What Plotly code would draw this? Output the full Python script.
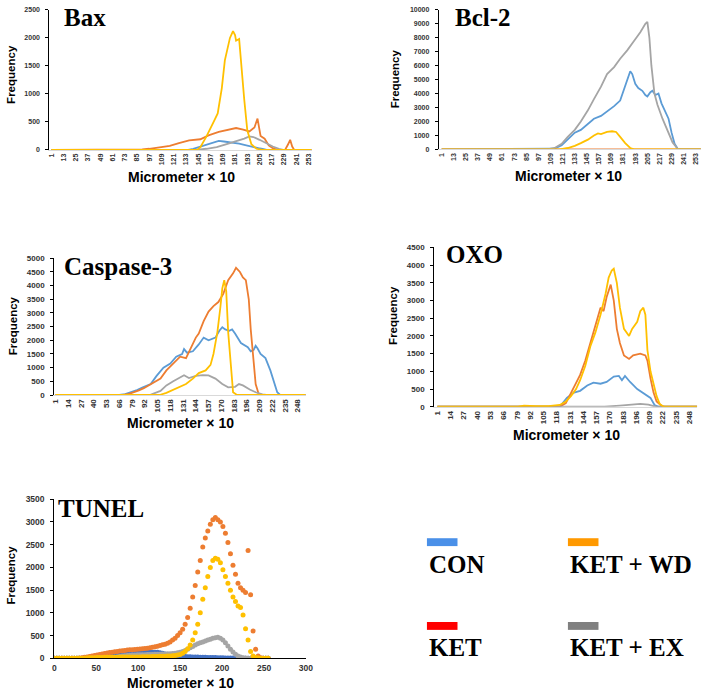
import plotly.graph_objects as go

W, H = 709, 695

# ---------------- DATA ----------------
# colors per group
C_CON, C_KET, C_WD, C_EX = "#5B9BD5", "#ED7D31", "#FFC000", "#A5A5A5"

# Bax (category index 1..256)
bax_con_x = [1, 135, 140, 147, 155, 160, 165, 170, 175, 179, 185, 192, 198, 204, 208, 212, 256]
bax_con_y = [0, 0, 20, 60, 110, 140, 160, 150, 140, 130, 110, 80, 50, 30, 20, 0, 0]
bax_ket_x = [1, 85, 90, 97, 107, 117, 126, 136, 147, 155, 165, 176, 182, 189, 195, 200, 203, 206, 210, 214, 218, 222, 230, 233, 235, 237, 239, 256]
bax_ket_y = [0, 0, 10, 20, 40, 70, 120, 170, 190, 260, 320, 370, 390, 360, 330, 400, 560, 250, 200, 80, 30, 5, 0, 100, 180, 60, 0, 0]
bax_wd_x = [1, 144, 147, 153, 160, 164, 168, 171, 176, 179, 181, 182, 185, 187, 190, 193, 197, 202, 208, 256]
bax_wd_y = [0, 0, 50, 240, 500, 650, 1100, 1600, 2000, 2120, 2050, 1950, 1980, 1500, 900, 350, 100, 20, 0, 0]
bax_ex_x = [1, 143, 153, 163, 172, 182, 190, 195, 199, 205, 211, 218, 224, 228, 256]
bax_ex_y = [0, 0, 20, 50, 100, 150, 200, 240, 230, 180, 120, 60, 20, 0, 0]

# Bcl-2
bcl_con_x = [1, 105, 113, 120, 126, 133, 139, 146, 152, 159, 165, 172, 178, 182, 185, 188, 190, 193, 196, 200, 203, 205, 208, 210, 213, 216, 219, 222, 226, 229, 232, 235, 238, 258]
bcl_con_y = [0, 0, 50, 300, 700, 1200, 1400, 1800, 2200, 2400, 2700, 3100, 3500, 4300, 5000, 5600, 5400, 4700, 4400, 4200, 3900, 3800, 4100, 4200, 3900, 4000, 3300, 2800, 2200, 1200, 400, 50, 0, 0]
bcl_ket_x = [1, 110, 120, 190, 200, 258]
bcl_ket_y = [0, 0, 30, 30, 0, 0]
bcl_wd_x = [1, 118, 126, 133, 139, 146, 152, 156, 159, 162, 165, 170, 174, 178, 183, 188, 192, 258]
bcl_wd_y = [0, 0, 100, 250, 450, 700, 1000, 1150, 1100, 1200, 1250, 1300, 1250, 900, 450, 100, 0, 0]
bcl_ex_x = [1, 100, 108, 113, 120, 126, 133, 139, 146, 152, 159, 165, 172, 178, 185, 191, 198, 203, 205, 207, 209, 212, 215, 220, 225, 230, 235, 237, 258]
bcl_ex_y = [0, 0, 30, 100, 400, 900, 1400, 2000, 2800, 3600, 4500, 5400, 5900, 6500, 7100, 7700, 8400, 9000, 9150, 8000, 6000, 4000, 3200, 2200, 1300, 500, 50, 0, 0]

# Caspase-3
cas_con_x = [1, 66, 72, 78, 84, 90, 98, 104, 111, 118, 124, 130, 132, 135, 141, 147, 152, 157, 164, 168, 171, 174, 178, 181, 184, 190, 197, 200, 203, 205, 207, 210, 215, 220, 224, 227, 230, 256]
cas_con_y = [0, 0, 30, 100, 180, 280, 400, 700, 1000, 1150, 1400, 1500, 1680, 1550, 1600, 1850, 2100, 2000, 2100, 2350, 2480, 2400, 2350, 2400, 2250, 1900, 1750, 1600, 1650, 1800, 1700, 1500, 1350, 900, 400, 100, 0, 0]
cas_ket_x = [1, 70, 76, 81, 86, 91, 96, 101, 108, 114, 121, 128, 134, 139, 144, 147, 152, 157, 162, 167, 172, 177, 182, 185, 189, 192, 195, 198, 200, 203, 205, 208, 211, 256]
cas_ket_y = [0, 0, 40, 100, 170, 250, 350, 450, 600, 900, 1150, 1400, 1350, 1700, 2100, 2250, 2700, 3050, 3250, 3400, 3700, 4200, 4450, 4650, 4500, 4300, 4200, 3500, 2400, 1200, 400, 50, 0, 0]
cas_wd_x = [1, 107, 114, 121, 128, 134, 141, 147, 154, 159, 162, 166, 169, 171, 173, 175, 177, 180, 182, 186, 256]
cas_wd_y = [0, 0, 80, 200, 300, 400, 600, 800, 900, 1100, 1500, 2300, 3200, 3900, 4200, 3800, 2300, 800, 100, 0, 0]
cas_ex_x = [1, 97, 108, 114, 121, 128, 132, 137, 144, 151, 157, 164, 171, 177, 184, 188, 192, 199, 205, 212, 216, 256]
cas_ex_y = [0, 0, 150, 350, 500, 650, 720, 620, 700, 730, 720, 600, 400, 280, 300, 400, 350, 200, 100, 20, 0, 0]

# OXO
oxo_con_x = [1, 121, 128, 135, 141, 148, 154, 161, 167, 174, 179, 182, 185, 190, 197, 203, 210, 214, 218, 256]
oxo_con_y = [0, 0, 250, 400, 450, 600, 680, 650, 700, 850, 870, 750, 870, 700, 500, 380, 250, 50, 0, 0]
oxo_ket_x = [1, 121, 127, 132, 137, 141, 146, 151, 156, 161, 164, 167, 171, 174, 177, 180, 184, 189, 193, 200, 205, 207, 210, 213, 216, 221, 224, 256]
oxo_ket_y = [0, 0, 100, 400, 700, 900, 1300, 1800, 2300, 2800, 2700, 3100, 3450, 3000, 2200, 1800, 1450, 1350, 1450, 1500, 1450, 1300, 800, 400, 150, 20, 0, 0]
oxo_wd_x = [1, 80, 86, 92, 98, 110, 121, 127, 132, 137, 141, 146, 151, 156, 161, 166, 169, 172, 174, 177, 180, 184, 189, 192, 197, 200, 203, 205, 207, 210, 213, 216, 219, 223, 256]
oxo_wd_y = [0, 0, 30, 20, 15, 20, 50, 150, 300, 500, 750, 1150, 1700, 2100, 2600, 3200, 3650, 3850, 3900, 3500, 2800, 2200, 2000, 2200, 2400, 2700, 2800, 2600, 1600, 1000, 600, 300, 80, 0, 0]
oxo_ex_x = [1, 165, 180, 190, 200, 208, 215, 256]
oxo_ex_y = [0, 0, 30, 60, 80, 60, 0, 0]

# TUNEL (micrometer x 10, sampled every 3)
tun_x = list(range(0, 256, 3))
tun_con_y = [0]*18 + [5, 10, 20, 30, 40, 50, 60, 70, 80, 90, 100, 105, 110, 115, 120, 122, 125, 128, 130, 132, 135, 135, 135, 130, 120, 110, 95, 85, 75, 65, 55, 50, 45, 40, 38, 35, 32, 30, 28, 26, 24, 22, 20, 18, 16, 15, 14, 12, 10, 9, 8, 7, 6, 5, 4, 3, 2, 1] + [0]*10
tun_ket_y = [0]*10 + [5, 10, 20, 30, 40, 50, 60, 70, 85, 95, 105, 115, 125, 135, 145, 150, 160, 165, 170, 180, 185, 190, 195, 200, 205, 210, 215, 220, 230, 240, 255, 265, 280, 295, 310, 330, 360, 400, 440, 500, 560, 640, 750, 900, 1100, 1350, 1600, 1900, 2150, 2450, 2650, 2800, 2950, 3050, 3100, 3050, 3000, 2900, 2750, 2550, 2300, 2050, 1850, 1650, 1550, 1500, 1450, 2370, 1400, 600, 200, 50, 10, 0, 0, 0]
tun_wd_y = [0]*13 + [5, 10, 10, 12, 15, 15, 18, 20, 20, 20, 22, 22, 24, 25, 25, 25, 27, 28, 28, 30, 30, 30, 32, 32, 34, 35, 36, 38, 40, 42, 44, 46, 48, 52, 56, 62, 70, 85, 110, 150, 210, 290, 400, 560, 750, 1000, 1300, 1550, 1800, 2000, 2150, 2200, 2180, 2100, 1950, 1800, 1650, 1500, 1350, 1250, 1150, 1120, 950, 650, 400, 150, 50, 15, 5, 0, 0, 0, 0]
tun_ex_y = [0]*24 + [20, 30, 40, 50, 55, 60, 65, 70, 72, 75, 78, 80, 80, 82, 85, 85, 88, 90, 90, 92, 95, 98, 100, 105, 110, 120, 130, 150, 170, 200, 230, 260, 290, 320, 340, 360, 380, 400, 420, 440, 450, 460, 440, 400, 340, 270, 200, 140, 90, 50, 25, 10, 5] + [0]*9

# tick labels
cat_ticks_12 = list(range(1, 254, 12))
cat_ticks_13 = list(range(1, 249, 13))
tun_ticks = [0, 50, 100, 150, 200, 250, 300]

legend_items = [("CON", "#4A90E8", 430, 545, 568), ("KET + WD", "#FF9900", 573, 545, 568),
                ("KET", "#FF0000", 430, 630, 652), ("KET + EX", "#808080", 573, 630, 652)]

# ---------------- FIGURE ----------------
fig = go.Figure()

def px_dom_x(a, b):
    return [a / W, b / W]

def px_dom_y(top, bottom):
    return [1 - bottom / H, 1 - top / H]

panels = [
    ("Bax", 1, [(bax_con_x, bax_con_y, C_CON), (bax_ket_x, bax_ket_y, C_KET), (bax_ex_x, bax_ex_y, C_EX), (bax_wd_x, bax_wd_y, C_WD)],
     (47, 313), (5, 147), [-1, 256], 2500, 500, cat_ticks_12, 7),
    ("Bcl-2", 2, [(bcl_con_x, bcl_con_y, C_CON), (bcl_ket_x, bcl_ket_y, C_KET), (bcl_ex_x, bcl_ex_y, C_EX), (bcl_wd_x, bcl_wd_y, C_WD)],
     (442, 708), (5, 146.5), [-1.9, 258.2], 10000, 1000, cat_ticks_12, 7),
    ("Caspase-3", 3, [(cas_con_x, cas_con_y, C_CON), (cas_ket_x, cas_ket_y, C_KET), (cas_ex_x, cas_ex_y, C_EX), (cas_wd_x, cas_wd_y, C_WD)],
     (52, 307), (257, 395.7), [-0.3, 256], 5000, 500, cat_ticks_13, 8),
    ("OXO", 4, [(oxo_con_x, oxo_con_y, C_CON), (oxo_ket_x, oxo_ket_y, C_KET), (oxo_ex_x, oxo_ex_y, C_EX), (oxo_wd_x, oxo_wd_y, C_WD)],
     (437.4, 704), (246, 407.6), [-2.1, 255.7], 4500, 500, cat_ticks_13, 8),
]

layout_axes = {}
for name, i, series, xd, yd, xr, ymax, dt, cticks, fs in panels:
    xa = "x" if i == 1 else f"x{i}"
    ya = "y" if i == 1 else f"y{i}"
    for xs, ys, col in series:
        fig.add_trace(go.Scatter(x=xs, y=ys, mode="lines", line=dict(color=col, width=1.8),
                                 xaxis=xa, yaxis=ya, hoverinfo="skip"))
    kx = "xaxis" if i == 1 else f"xaxis{i}"
    ky = "yaxis" if i == 1 else f"yaxis{i}"
    layout_axes[kx] = dict(domain=px_dom_x(*xd), anchor=ya, range=xr, showgrid=False, zeroline=False,
                           showline=True, linecolor="#D9D9D9", linewidth=1,
                           tickmode="array", tickvals=cticks, ticktext=[str(t) for t in cticks],
                           tickangle=-90, ticks="", tickfont=dict(family="Liberation Sans", size=fs, color="#333333", weight="bold"))
    layout_axes[ky] = dict(domain=px_dom_y(*yd), anchor=xa, range=[0, ymax], dtick=dt, tickformat="d", showgrid=False,
                           zeroline=False, showline=True, linecolor="#000000", linewidth=1,
                           ticks="outside", ticklen=3, tickcolor="#000000", ticklabelstandoff=4,
                           tickfont=dict(family="Liberation Sans", size=fs, color="#333333", weight="bold"))

# TUNEL scatter
for ys, col in [(tun_con_y, "#4472C4"), (tun_ket_y, C_KET), (tun_ex_y, C_EX), (tun_wd_y, C_WD)]:
    fig.add_trace(go.Scatter(x=tun_x, y=ys, mode="markers", marker=dict(color=col, size=5),
                             xaxis="x5", yaxis="y5", hoverinfo="skip"))
layout_axes["xaxis5"] = dict(domain=px_dom_x(52, 307.3), anchor="y5", range=[0, 300], showgrid=False, zeroline=False,
                             showline=True, linecolor="#000000", linewidth=1, tickmode="array", tickvals=tun_ticks,
                             ticks="", ticklabelstandoff=2,
                             tickfont=dict(family="Liberation Sans", size=8.5, color="#333333", weight="bold"))
layout_axes["yaxis5"] = dict(domain=px_dom_y(501.5, 662.8), anchor="x5", range=[0, 3500], dtick=500, tickformat="d", showgrid=False,
                             zeroline=False, showline=True, linecolor="#000000", linewidth=1,
                             ticks="outside", ticklen=3, tickcolor="#000000", ticklabelstandoff=4,
                             tickfont=dict(family="Liberation Sans", size=8.5, color="#333333", weight="bold"))

ann = []
def A(text, px, py, size, family, xanchor="center", angle=0, weight="bold"):
    ann.append(dict(text=text, x=px / W, y=1 - py / H, xref="paper", yref="paper", xanchor=xanchor,
                    yanchor="middle", showarrow=False, textangle=angle,
                    font=dict(family=family, size=size, color="#000000", weight=weight)))

# panel titles
for t, px, py in [("Bax", 60, 13), ("Bcl-2", 456, 13), ("Caspase-3", 60, 265), ("OXO", 447, 253), ("TUNEL", 54, 511)]:
    A(t, px, py, 25, "Liberation Serif", xanchor="left")
# axis titles
for px, py in [(181, 175), (574, 174), (180, 424), (572, 436), (180, 688)]:
    A("Micrometer × 10", px, py, 14, "Liberation Sans")
for px, py in [(8, 70), (398, 75), (10, 325), (396, 315), (8, 578)]:
    A("Frequency", px, py, 11.5, "Liberation Sans", angle=-90)

shapes = []
for label, col, lx, ry, ty in legend_items:
    shapes.append(dict(type="rect", xref="paper", yref="paper", x0=lx / W, x1=(lx + 31) / W,
                       y0=1 - (ry + 4) / H, y1=1 - (ry - 4) / H, fillcolor=col, line=dict(width=0)))
    A(label, lx, ty, 25, "Liberation Serif", xanchor="left")

fig.update_layout(width=W, height=H, margin=dict(l=0, r=0, t=0, b=0), paper_bgcolor="white",
                  plot_bgcolor="white", showlegend=False, annotations=ann, shapes=shapes, **layout_axes)

fig.write_html("out.html")
